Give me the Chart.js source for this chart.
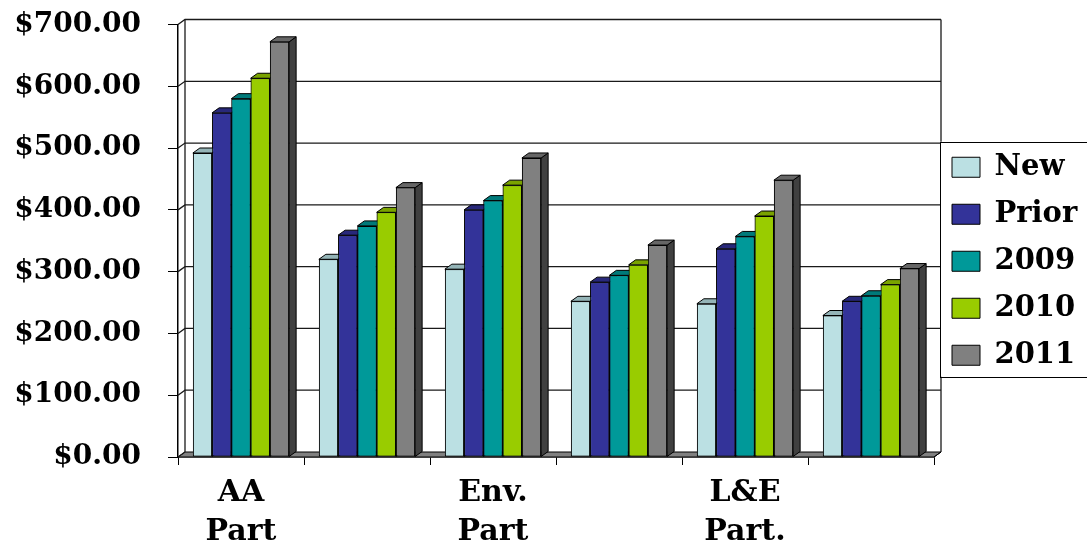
<!DOCTYPE html>
<html>
<head>
<meta charset="utf-8">
<script src="https://cdn.jsdelivr.net/npm/chart.js@4.4.1/dist/chart.umd.min.js"></script>
<style>
  html, body { margin: 0; padding: 0; background: #ffffff; }
  #wrap { width: 1087px; height: 544px; }
</style>
</head>
<body>
<div id="wrap"><canvas id="c" width="1087" height="544"></canvas></div>
<script>
// ---- data ----
const categories = [["AA", "Part"], "", ["Env.", "Part"], "", ["L&E", "Part."], ""];
const seriesNames = ["New", "Prior", "2009", "2010", "2011"];
const valuesNew   = [492, 320, 304, 252, 248, 229];
const valuesPrior = [557, 359, 400, 283, 337, 252];
const values2009  = [580, 374, 415, 294, 357, 261];
const values2010  = [613, 396, 440, 311, 390, 279];
const values2011  = [672, 436, 484, 343, 448, 305];
const yTicks = [0, 100, 200, 300, 400, 500, 600, 700];

// ---- styles ----
const frontColors = ["#BBE0E3", "#333399", "#009999", "#99CC00", "#808080"];
const topColors   = ["#94B4B7", "#28287A", "#007A7A", "#7AA300", "#666666"];
const sideColors  = ["#7A9A9C", "#1E1E5C", "#005C5C", "#5C7A00", "#404040"];
const DX = 7, DY = 5;
const FONT = "'DejaVu Serif', 'Liberation Serif', serif";

function legendRect(chart) {
  const lg = chart.legend;
  if (!lg || !lg.legendHitBoxes || !lg.legendHitBoxes.length) return null;
  const hb = lg.legendHitBoxes;
  const first = hb[0], last = hb[hb.length - 1];
  return { x: lg.left + 6, y: first.top - 11, w: chart.width, h: (last.top + last.height + 7) - (first.top - 11) };
}

const fixLegend = {
  id: 'fixLegend',
  beforeLayout(chart) {
    const lg = chart.legend;
    if (lg && !lg._wrapped) {
      const orig = lg.fit;
      lg.fit = function () { orig.call(this); this.width = 153; };
      lg._wrapped = true;
    }
  },
  afterLayout(chart) {
    const lg = chart.legend;
    if (lg) {
      lg.top = 24.5;
      lg.bottom = 498;
      lg.height = lg.bottom - lg.top;
    }
  }
};

const walls3d = {
  id: 'walls3d',
  beforeDatasetsDraw(chart) {
    const { ctx, chartArea, scales } = chart;
    const { left, right, top, bottom } = chartArea;
    const y = scales.y;
    ctx.save();
    // floor
    ctx.beginPath();
    ctx.moveTo(left, bottom);
    ctx.lineTo(right, bottom);
    ctx.lineTo(right + DX, bottom - DY);
    ctx.lineTo(left + DX, bottom - DY);
    ctx.closePath();
    ctx.fillStyle = '#808080';
    ctx.fill();
    ctx.lineWidth = 1;
    ctx.strokeStyle = '#000';
    ctx.stroke();
    // back wall gridlines
    ctx.strokeStyle = '#1a1a1a';
    ctx.lineWidth = 1.3;
    y.ticks.forEach(t => {
      const py = y.getPixelForValue(t.value);
      ctx.beginPath();
      ctx.moveTo(left, py);
      ctx.lineTo(left + DX, py - DY);
      if (t.value !== 0) ctx.lineTo(right + DX, py - DY);
      ctx.stroke();
    });
    // left wall vertical
    ctx.beginPath();
    ctx.moveTo(left + DX, top - DY);
    ctx.lineTo(left + DX, bottom - DY);
    ctx.stroke();
    // right wall vertical (skip legend box)
    const lr = legendRect(chart);
    ctx.beginPath();
    if (lr && lr.x <= right + DX + 2) {
      ctx.moveTo(right + DX, top - DY);
      ctx.lineTo(right + DX, lr.y);
      ctx.moveTo(right + DX, lr.y + lr.h);
      ctx.lineTo(right + DX, bottom - DY);
    } else {
      ctx.moveTo(right + DX, top - DY);
      ctx.lineTo(right + DX, bottom - DY);
    }
    ctx.stroke();
    ctx.beginPath();
    ctx.moveTo(right, bottom);
    ctx.lineTo(right + DX, bottom - DY);
    ctx.strokeStyle = '#000';
    ctx.lineWidth = 1;
    ctx.stroke();
    ctx.restore();
  },
  afterDatasetsDraw(chart) {
    const { ctx } = chart;
    const n = categories.length;
    ctx.save();
    for (let i = 0; i < n; i++) {
      chart.data.datasets.forEach((ds, d) => {
        const meta = chart.getDatasetMeta(d);
        const el = meta.data[i];
        if (!el) return;
        const p = el.getProps(['x', 'y', 'base', 'width'], true);
        const l = p.x - p.width / 2, r = p.x + p.width / 2;
        ctx.lineWidth = 1;
        ctx.strokeStyle = '#000';
        // side face
        ctx.beginPath();
        ctx.moveTo(r, p.y);
        ctx.lineTo(r + DX, p.y - DY);
        ctx.lineTo(r + DX, p.base - DY);
        ctx.lineTo(r, p.base);
        ctx.closePath();
        ctx.fillStyle = sideColors[d];
        ctx.fill();
        ctx.stroke();
        // top face
        ctx.beginPath();
        ctx.moveTo(l, p.y);
        ctx.lineTo(l + DX, p.y - DY);
        ctx.lineTo(r + DX, p.y - DY);
        ctx.lineTo(r, p.y);
        ctx.closePath();
        ctx.fillStyle = topColors[d];
        ctx.fill();
        ctx.stroke();
        // front face (library element)
        el.draw(ctx, chart.chartArea);
      });
    }
    ctx.restore();
  },
  afterDraw(chart) {
    const lr = legendRect(chart);
    if (!lr) return;
    const { ctx } = chart;
    ctx.save();
    ctx.strokeStyle = '#000';
    ctx.lineWidth = 1;
    ctx.strokeRect(Math.round(lr.x) + 0.5, Math.round(lr.y) + 0.5, lr.w, Math.round(lr.h));
    ctx.restore();
  }
};

const seriesValues = [valuesNew, valuesPrior, values2009, values2010, values2011];

new Chart(document.getElementById('c'), {
  type: 'bar',
  data: {
    labels: categories,
    datasets: seriesNames.map((name, k) => ({
      label: name,
      data: seriesValues[k],
      backgroundColor: frontColors[k],
      borderColor: '#000000',
      borderWidth: 1,
      borderSkipped: false,
      barPercentage: 1.0,
      categoryPercentage: 0.764
    }))
  },
  options: {
    responsive: false,
    devicePixelRatio: 1,
    animation: false,
    layout: { padding: { top: 24.5, right: 0, bottom: 0, left: 0 } },
    plugins: {
      tooltip: { enabled: false },
      title: { display: false },
      legend: {
        display: true,
        position: 'right',
        align: 'center',
        labels: {
          boxWidth: 28,
          boxHeight: 20,
          padding: 18,
          color: '#000000',
          font: { family: FONT, size: 29, weight: 'bold' }
        }
      }
    },
    scales: {
      x: {
        type: 'category',
        offset: true,
        grid: { display: true, drawOnChartArea: false, drawTicks: true, tickLength: 8, color: '#000000', offset: true },
        border: { display: true, color: '#000000', width: 1.5 },
        ticks: {
          autoSkip: false,
          maxRotation: 0,
          minRotation: 0,
          padding: 9,
          color: '#000000',
          font: { family: FONT, size: 30, weight: 'bold', lineHeight: 1.3 }
        },
        afterFit(scale) { scale.height = 87; scale.paddingLeft = 0; scale.paddingRight = 0; }
      },
      y: {
        min: 0,
        max: 700,
        afterBuildTicks(scale) { scale.ticks = yTicks.map(v => ({ value: v })); },
        grid: { display: true, drawOnChartArea: false, drawTicks: true, tickLength: 10, color: '#000000' },
        border: { display: true, color: '#000000', width: 1.5 },
        ticks: {
          padding: 27,
          color: '#000000',
          font: { family: FONT, size: 28, weight: 'bold' },
          callback: (v) => '$' + Number(v).toFixed(2)
        },
        afterFit(scale) { scale.width = 178; scale.paddingTop = 0; scale.paddingBottom = 0; }
      }
    }
  },
  plugins: [fixLegend, walls3d]
});
</script>
</body>
</html>
